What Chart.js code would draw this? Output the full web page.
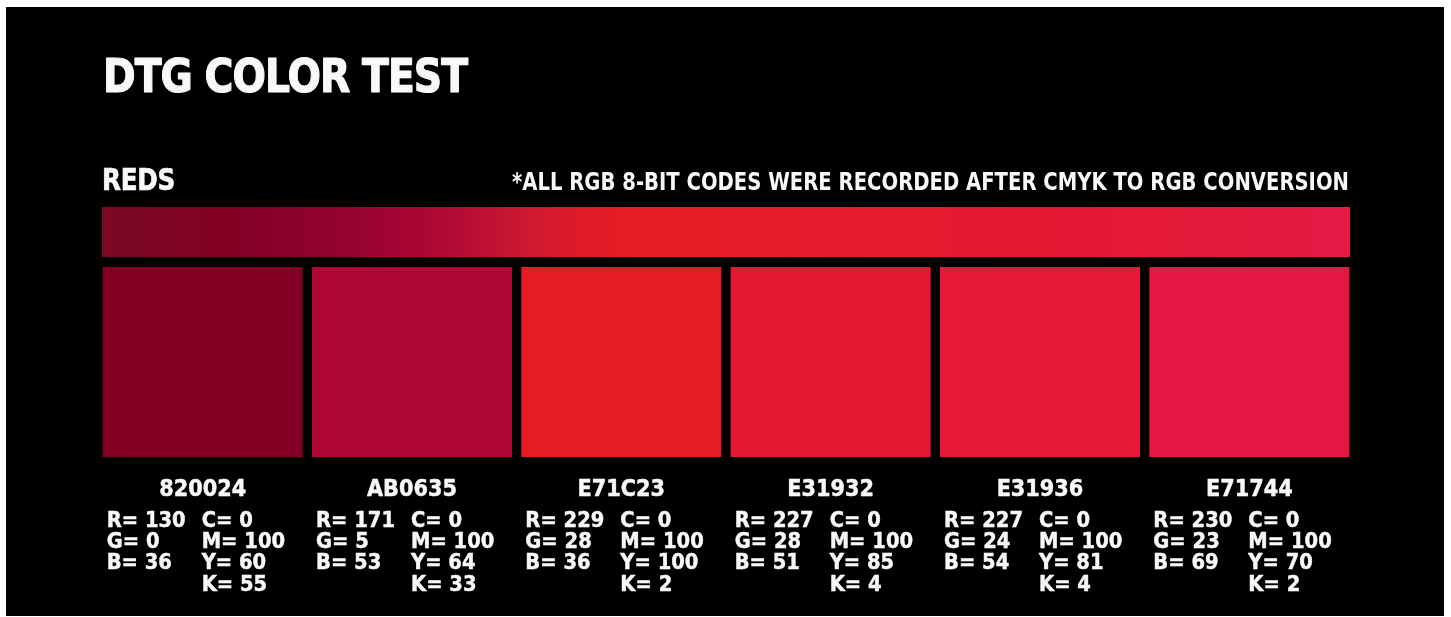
<!DOCTYPE html>
<html>
<head>
<meta charset="utf-8">
<script src="https://cdn.jsdelivr.net/npm/chart.js@4/dist/chart.umd.min.js"></script>
<style>
  html, body { margin: 0; padding: 0; background: #ffffff; width: 1451px; height: 617px; overflow: hidden; }
  #wrap { position: absolute; left: 6px; top: 7px; width: 1438px; height: 609px; background: #000000; }
  canvas { display: block; }
</style>
</head>
<body>
<div id="wrap"><canvas id="c" width="1438" height="609"></canvas></div>
<script>
// ---- data ----
const titleText = 'DTG COLOR TEST';
const groupName = 'REDS';
const noteText = '*ALL RGB 8-BIT CODES WERE RECORDED AFTER CMYK TO RGB CONVERSION';
const hexCodes = ['820024', 'AB0635', 'E71C23', 'E31932', 'E31936', 'E71744'];
const rVals = [130, 171, 229, 227, 227, 230];
const gVals = [0, 5, 28, 28, 24, 23];
const bVals = [36, 53, 36, 51, 54, 69];
const cVals = [0, 0, 0, 0, 0, 0];
const mVals = [100, 100, 100, 100, 100, 100];
const yVals = [60, 64, 100, 85, 81, 70];
const kVals = [55, 33, 2, 4, 4, 2];

// ---- styling ----
const gradientStops = [
  [0.00, '#7a0a24'], [0.10, '#820024'], [0.19, '#930330'], [0.26, '#ab0635'],
  [0.31, '#bf1233'], [0.36, '#d81b2c'], [0.42, '#e71c23'], [0.60, '#e51b2d'],
  [0.75, '#e31932'], [0.87, '#e31938'], [1.00, '#e61a47']
];
const FONT = '"DejaVu Sans", "Liberation Sans", sans-serif';

function fitScale(ctx, font, sample, targetW, ls) {
  ctx.save(); ctx.font = font; ctx.letterSpacing = (ls || 0) + 'px';
  const w = ctx.measureText(sample).width; ctx.restore();
  return targetW / w;
}
function drawText(ctx, text, x, y, font, sx, align, ls, stroke) {
  ctx.save();
  ctx.font = font;
  ctx.letterSpacing = (ls || 0) + 'px';
  ctx.fillStyle = '#f8f8f8';
  ctx.strokeStyle = '#f8f8f8';
  ctx.textBaseline = 'alphabetic';
  ctx.textAlign = align || 'left';
  ctx.translate(x, y);
  ctx.scale(sx, 1);
  ctx.fillText(text, 0, 0);
  if (stroke) { ctx.lineWidth = stroke; ctx.lineJoin = 'round'; ctx.strokeText(text, 0, 0); }
  ctx.restore();
}

const textPlugin = {
  id: 'swatchText',
  afterDraw(chart) {
    const ctx = chart.ctx;
    // title
    const fTitle = 'bold 46px ' + FONT;
    drawText(ctx, titleText, 97, 85, fTitle, fitScale(ctx, fTitle, titleText, 364, -1.2), 'left', -1.2, 1.2);
    // group name
    const fGroup = 'bold 30px ' + FONT;
    drawText(ctx, groupName, 96, 183, fGroup, fitScale(ctx, fGroup, groupName, 73, -0.3), 'left', -0.3, 0.7);
    // note
    const fNote = 'bold 25px ' + FONT;
    drawText(ctx, noteText, 1343, 183, fNote, fitScale(ctx, fNote, noteText, 837), 'right');

    const meta = chart.getDatasetMeta(1);
    const fHex = 'bold 23px ' + FONT;
    const sHex = fitScale(ctx, fHex, '820024', 87);
    const fVal = 'bold 22px ' + FONT;
    const sVal = fitScale(ctx, fVal, 'R= 130', 79);
    meta.data.forEach((bar, i) => {
      const left = bar.x - bar.width / 2;
      drawText(ctx, hexCodes[i], bar.x, 489, fHex, sHex, 'center', 0, 0.5);
      const base = [520, 541, 562, 584];
      drawText(ctx, 'R= ' + rVals[i], left + 4, base[0], fVal, sVal, 'left', 0, 0.5);
      drawText(ctx, 'G= ' + gVals[i], left + 4, base[1], fVal, sVal, 'left', 0, 0.5);
      drawText(ctx, 'B= ' + bVals[i], left + 4, base[2], fVal, sVal, 'left', 0, 0.5);
      drawText(ctx, 'C= ' + cVals[i], left + 99, base[0], fVal, sVal, 'left', 0, 0.5);
      drawText(ctx, 'M= ' + mVals[i], left + 99, base[1], fVal, sVal, 'left', 0, 0.5);
      drawText(ctx, 'Y= ' + yVals[i], left + 99, base[2], fVal, sVal, 'left', 0, 0.5);
      drawText(ctx, 'K= ' + kVals[i], left + 99, base[3], fVal, sVal, 'left', 0, 0.5);
    });
  }
};

function gradientFill(context) {
  const chart = context.chart;
  const area = chart.chartArea;
  if (!area) return '#e31932';
  const g = chart.ctx.createLinearGradient(area.left + 4, 0, area.right - 4, 0);
  gradientStops.forEach(s => g.addColorStop(s[0], s[1]));
  return g;
}

new Chart(document.getElementById('c'), {
  type: 'bar',
  data: {
    labels: hexCodes,
    datasets: [
      {
        label: 'gradient',
        xAxisID: 'x2',
        data: [[0, 50]],
        backgroundColor: gradientFill,
        borderWidth: 0,
        barPercentage: 1248 / 1256,
        categoryPercentage: 1,
        grouped: false
      },
      {
        label: 'swatches',
        xAxisID: 'x',
        data: hexCodes.map(() => [60, 250]),
        backgroundColor: hexCodes.map(h => '#' + h),
        borderWidth: 0,
        barPercentage: 200 / (1256 / 6),
        categoryPercentage: 1,
        grouped: false
      }
    ]
  },
  options: {
    responsive: false,
    animation: false,
    layout: { padding: { left: 92, right: 90, top: 200, bottom: 159 } },
    plugins: { legend: { display: false }, tooltip: { enabled: false }, title: { display: false } },
    scales: {
      x: { type: 'category', display: false, offset: true },
      x2: { type: 'category', labels: ['all'], display: false, offset: true },
      y: { type: 'linear', min: 0, max: 250, reverse: true, display: false }
    }
  },
  plugins: [textPlugin]
});
</script>
</body>
</html>
